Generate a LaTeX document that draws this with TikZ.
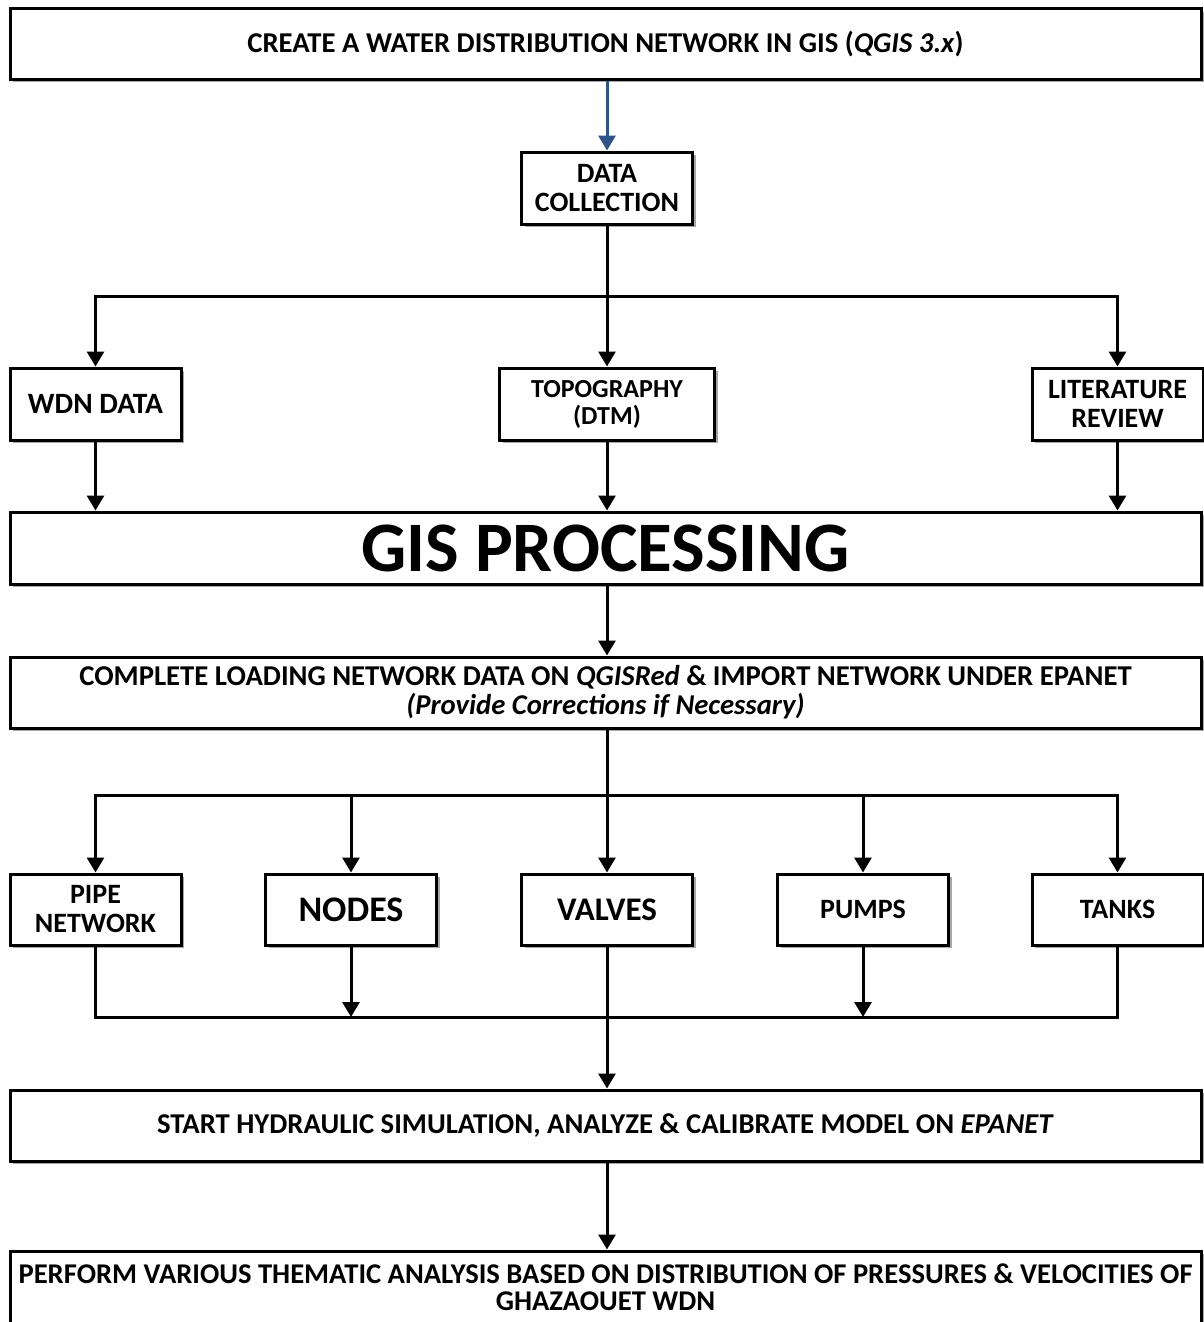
\documentclass[tikz,border=0pt]{standalone}
\usepackage{fontspec}
\setmainfont{Carlito}
\usetikzlibrary{arrows.meta,shadows}
\definecolor{arrblue}{RGB}{46,84,140}
\begin{document}
\begin{tikzpicture}[x=1pt,y=-1pt,
  box/.style={draw, line width=3pt, fill=white, inner sep=0pt, align=center,
    font=\bfseries\fontsize{28}{29}\selectfont,
    drop shadow={shadow xshift=3pt, shadow yshift=-3pt, fill=black!35, opacity=1}},
  wide/.style={box, minimum width=1191pt, minimum height=71pt, font=\bfseries\fontsize{28.7}{29}\selectfont},
  small/.style={box, minimum width=171pt, minimum height=72pt},
  link/.style={line width=3pt},
  arr/.style={line width=3pt, -{Triangle[width=17pt,length=15pt]}},
]
\useasboundingbox[fill=white] (0,0) rectangle (1203,1322);

% nodes
\node[wide, minimum height=70pt] (top) at (605.5,44)
  {CREATE A WATER DISTRIBUTION NETWORK IN GIS (\textit{QGIS 3.x})};
\node[small] (dc) at (607,188) {DATA\\COLLECTION};
\node[small, font=\bfseries\fontsize{29.5}{30}\selectfont] (wdn) at (95.5,404) {WDN DATA};
\node[small, minimum width=215pt, font=\bfseries\fontsize{26}{27}\selectfont] (topo) at (607,404) {TOPOGRAPHY\\(DTM)};
\node[small] (lit) at (1117.5,404) {LITERATURE\\REVIEW};
\node[wide, minimum height=72pt, font=\bfseries\fontsize{71}{72}\selectfont] (gis) at (605.5,548) {GIS PROCESSING};
\node[wide] (comp) at (605.5,692.5)
  {COMPLETE LOADING NETWORK DATA ON \textit{QGISRed} \& IMPORT NETWORK UNDER EPANET\\
   \textit{(Provide Corrections if Necessary)}};
\node[small, minimum height=71pt] (pipe) at (95.5,909.5) {PIPE\\NETWORK};
\node[small, minimum height=71pt, font=\bfseries\fontsize{36}{38}\selectfont] (nodes) at (351,909.5) {NODES};
\node[small, minimum height=71pt, font=\bfseries\fontsize{33}{35}\selectfont] (valves) at (607,909.5) {VALVES};
\node[small, minimum height=71pt] (pumps) at (863,909.5) {PUMPS};
\node[small, minimum height=71pt] (tanks) at (1117.5,909.5) {TANKS};
\node[wide] (start) at (605.5,1125.5)
  {START HYDRAULIC SIMULATION, ANALYZE \& CALIBRATE MODEL ON \textit{EPANET}};
\node[wide, minimum height=72pt, font=\bfseries\fontsize{28.6}{27}\selectfont] (perf) at (605.5,1287)
  {PERFORM VARIOUS THEMATIC ANALYSIS BASED ON DISTRIBUTION OF PRESSURES \& VELOCITIES OF\\GHAZAOUET WDN};

\coordinate (s1) at (607,296);
\coordinate (s2) at (607,795);
\coordinate (m1) at (607,1017);

% connectors
\draw[arr, arrblue] (top.south -| dc.north) -- (dc.north);
\draw[link] (dc.south) -- (s1);
\draw[arr] (s1) -| (wdn.north);
\draw[arr] (s1) -- (topo.north);
\draw[arr] (s1) -| (lit.north);

\draw[arr] (wdn.south) -- (wdn.south |- gis.north);
\draw[arr] (topo.south) -- (topo.south |- gis.north);
\draw[arr] (lit.south) -- (lit.south |- gis.north);

\draw[arr] (gis.south -| dc.south) -- (comp.north -| dc.south);

\draw[link] (comp.south -| s2) -- (s2);
\draw[arr] (s2) -| (pipe.north);
\draw[arr] (s2) -| (nodes.north);
\draw[arr] (s2) -- (valves.north);
\draw[arr] (s2) -| (pumps.north);
\draw[arr] (s2) -| (tanks.north);

\draw[link] (pipe.south) |- (m1) -| (tanks.south);
\draw[arr] (nodes.south) -- (nodes.south |- m1);
\draw[arr] (pumps.south) -- (pumps.south |- m1);
\draw[link] (valves.south) -- (m1);
\draw[arr] (m1) -- (start.north -| m1);

\draw[arr] (start.south -| m1) -- (perf.north -| m1);
\end{tikzpicture}
\end{document}
